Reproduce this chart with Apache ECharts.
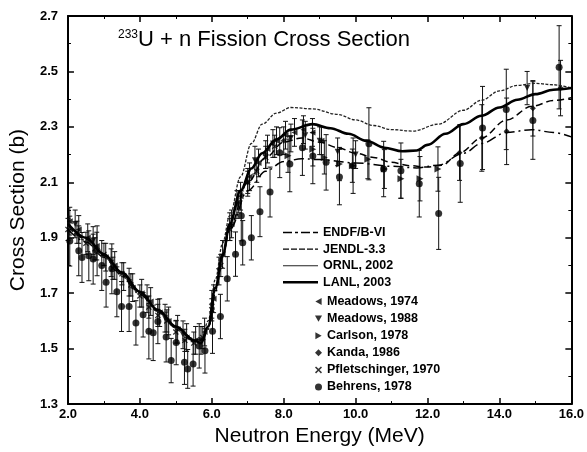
<!DOCTYPE html>
<html><head><meta charset="utf-8">
<script src="https://cdn.jsdelivr.net/npm/echarts@6/dist/echarts.min.js"></script>
<style>html,body{margin:0;padding:0;background:#fff}#c{width:587px;height:452px}</style>
</head><body><div id="c"></div>
<script>
// ---- evaluated curves: energy (MeV) / cross section (b)
const endfE  = [2.0,2.5,3.0,3.5,4.0,4.5,5.0,5.5,5.7,5.9,6.1,6.3,6.5,7.0,7.5,8.0,8.5,9.0,10.0,11.0,11.7,12.3,13.0,13.5,14.2,14.9,15.5,16.0];
const endfV  = [1.93,1.885,1.83,1.765,1.695,1.635,1.575,1.53,1.525,1.57,1.70,1.83,1.93,2.07,2.14,2.175,2.185,2.182,2.17,2.158,2.152,2.162,2.205,2.24,2.28,2.29,2.28,2.264];
const jendlE = [2.0,2.5,3.0,3.5,4.0,4.5,5.0,5.5,5.7,5.9,6.1,6.3,6.5,7.0,7.5,8.0,8.5,9.0,9.5,10.0,10.5,11.0,11.5,12.0,12.4,12.9,13.5,14.2,14.9,15.5,16.0];
const jendlV = [1.94,1.895,1.835,1.77,1.70,1.64,1.58,1.535,1.53,1.58,1.71,1.84,1.94,2.10,2.19,2.245,2.26,2.245,2.225,2.205,2.19,2.172,2.16,2.155,2.162,2.207,2.26,2.325,2.374,2.395,2.405];
const ornlE  = [2.0,2.5,3.0,3.5,4.0,4.5,5.0,5.5,5.7,5.9,6.1,6.3,6.5,6.8,7.1,7.4,7.8,8.2,8.8,9.5,10.0,10.5,11.0,11.6,12.3,13.0,13.5,14.0,14.5,15.0,15.5,16.0];
const ornlV  = [1.94,1.89,1.83,1.77,1.70,1.635,1.575,1.53,1.525,1.60,1.75,1.88,1.98,2.12,2.24,2.31,2.35,2.37,2.365,2.345,2.325,2.305,2.29,2.285,2.31,2.36,2.396,2.43,2.45,2.457,2.452,2.44];
const lanlE  = [2.0,2.5,3.0,3.5,4.0,4.5,5.0,5.5,5.7,5.9,6.1,6.3,6.5,6.8,7.1,7.4,7.8,8.2,8.8,9.3,9.8,10.3,10.8,11.3,11.7,12.0,12.5,13.0,13.5,14.0,14.5,15.0,15.5,16.0];
const lanlV  = [1.95,1.90,1.84,1.775,1.705,1.64,1.58,1.53,1.52,1.58,1.72,1.835,1.95,2.07,2.15,2.205,2.255,2.29,2.31,2.295,2.275,2.25,2.225,2.212,2.215,2.235,2.275,2.31,2.34,2.37,2.398,2.418,2.434,2.44];

// ---- measurements: [energy, cross section, uncertainty]
const meadows1974 = [[2.05,1.96,0.05],[2.3,1.93,0.05],[2.55,1.90,0.05],[2.8,1.87,0.05],[3.05,1.83,0.05],[3.3,1.80,0.05],[3.55,1.76,0.05],[3.8,1.72,0.05],[4.05,1.70,0.05],[4.3,1.67,0.05],[4.55,1.63,0.05],[4.8,1.60,0.05],[5.05,1.57,0.05],[5.3,1.54,0.05],[5.55,1.53,0.05],[5.8,1.56,0.05],[6.05,1.68,0.05],[6.3,1.84,0.05],[6.55,1.95,0.05],[6.8,2.05,0.05],[7.05,2.12,0.05],[7.3,2.17,0.05],[7.55,2.22,0.05],[7.8,2.25,0.05],[8.05,2.27,0.05],[8.3,2.28,0.05],[8.55,2.29,0.05],[8.8,2.28,0.05],[9.05,2.25,0.05]];
const meadows1988 = [[2.2,1.95,0.05],[2.7,1.89,0.05],[3.2,1.81,0.05],[3.7,1.74,0.05],[4.2,1.68,0.05],[4.7,1.61,0.05],[5.2,1.55,0.05],[5.7,1.53,0.05],[6.2,1.78,0.05],[6.7,2.02,0.05],[7.2,2.18,0.05],[7.7,2.24,0.05],[8.2,2.26,0.05],[8.6,2.27,0.05],[9.0,2.25,0.05],[9.5,2.21,0.05],[10.0,2.20,0.05],[14.77,2.44,0.06]];
const carlson1978 = [[8.12,2.196,0.06],[8.81,2.219,0.06],[9.13,2.19,0.06],[9.55,2.166,0.06],[9.91,2.16,0.06],[10.34,2.183,0.07],[10.80,2.148,0.07],[11.26,2.113,0.07],[11.79,2.113,0.08],[12.29,2.148,0.08]];
const kanda1986 = [[6.0,1.66,0.05],[6.5,1.94,0.05],[7.0,2.10,0.05],[7.5,2.20,0.05],[8.0,2.25,0.05],[12.89,2.207,0.1],[13.51,2.26,0.12],[14.2,2.284,0.12],[14.93,2.367,0.1],[15.7,2.44,0.1]];
const pfletschinger1970 = [[2.0,1.93,0.04],[2.25,1.92,0.04],[2.5,1.88,0.04],[2.75,1.86,0.04],[3.0,1.84,0.04],[3.25,1.79,0.04],[3.5,1.77,0.04],[3.75,1.73,0.04],[4.0,1.69,0.04],[4.25,1.65,0.04],[4.5,1.62,0.04],[4.75,1.60,0.04],[5.0,1.56,0.04],[5.25,1.53,0.04],[5.5,1.52,0.04],[5.75,1.54,0.04],[6.0,1.64,0.04],[6.25,1.80,0.04],[6.5,1.93,0.04],[6.75,2.03,0.04],[7.0,2.10,0.04],[7.25,2.14,0.04],[7.5,2.19,0.04],[7.75,2.23,0.04]];
const behrens1978 = [[2.05,1.888,0.09],[2.30,1.853,0.09],[2.39,1.829,0.09],[2.58,1.835,0.09],[2.70,1.823,0.09],[2.81,1.853,0.09],[2.94,1.80,0.09],[3.06,1.74,0.09],[3.22,1.788,0.09],[3.36,1.705,0.09],[3.49,1.652,0.09],[3.70,1.652,0.09],[3.89,1.593,0.08],[4.09,1.622,0.08],[4.25,1.563,0.1],[4.37,1.557,0.1],[4.50,1.598,0.08],[4.73,1.542,0.09],[4.87,1.457,0.08],[5.01,1.522,0.08],[5.24,1.451,0.08],[5.33,1.427,0.07],[5.48,1.445,0.08],[5.65,1.51,0.08],[5.81,1.492,0.08],[6.02,1.563,0.08],[6.24,1.616,0.08],[6.43,1.752,0.08],[6.66,1.841,0.08],[6.82,1.979,0.09],[6.86,1.882,0.08],[7.10,1.90,0.08],[7.34,1.994,0.09],[7.62,2.065,0.09],[7.89,2.207,0.09],[8.17,2.166,0.1],[8.52,2.225,0.1],[8.81,2.195,0.1],[9.18,2.172,0.1],[9.55,2.119,0.1],[9.93,2.16,0.1],[10.37,2.239,0.13],[10.78,2.148,0.1],[11.26,2.142,0.1],[11.77,2.095,0.12],[12.31,1.988,0.13],[12.91,2.168,0.14],[13.53,2.296,0.15],[14.19,2.363,0.145],[14.93,2.323,0.14],[15.66,2.515,0.15]];

// ---- axis ticks
const xMin = 2, xMax = 16, xStep = 2;
const yMin = 1.3, yMax = 2.7, yStep = 0.2;

const FONT = '"Liberation Sans", Arial, Helvetica, sans-serif';
const pair = (e, v) => e.map((x, i) => [x, v[i]]);

function errRender(params, api) {
  const x = api.value(0), y = api.value(1), e = api.value(2);
  const t = api.coord([x, y + e]), b = api.coord([x, y - e]);
  const w = 2.5, st = { stroke: '#111', lineWidth: 1 };
  return { type: 'group', children: [
    { type: 'line', shape: { x1: t[0], y1: t[1], x2: b[0], y2: b[1] }, style: st },
    { type: 'line', shape: { x1: t[0] - w, y1: t[1], x2: t[0] + w, y2: t[1] }, style: st },
    { type: 'line', shape: { x1: b[0] - w, y1: b[1], x2: b[0] + w, y2: b[1] }, style: st }
  ]};
}

function lineSeries(name, data, width, type, color) {
  return { name, type: 'line', data, symbol: 'none', showSymbol: false, smooth: 0.35, smoothMonotone: 'x',
    lineStyle: { color: color || '#000', width, type }, itemStyle: { color: color || '#000' }, z: 5, silent: true };
}
function errSeries(data) {
  return { type: 'custom', data, renderItem: errRender, encode: { x: 0, y: 1 }, z: 3, silent: true };
}
function markSeries(name, data, symbol, size) {
  return { name, type: 'scatter', data: data.map(d => [d[0], d[1]]), symbol, symbolSize: size,
    itemStyle: { color: '#000' }, z: 4, silent: true };
}

// marker glyphs
const triLeft  = 'path://M0,5 L9,0 L9,10 Z';
const triDown  = 'path://M0,0 L10,0 L5,9 Z';
const triRight = 'path://M0,0 L9,5 L0,10 Z';
const cross = 'path://M0,1.5 L1.5,0 L5,3.5 L8.5,0 L10,1.5 L6.5,5 L10,8.5 L8.5,10 L5,6.5 L1.5,10 L0,8.5 L3.5,5 Z';
// legend line glyphs (35 px wide, drawn as filled strips)
function strips(segs, h) {
  return 'path://' + segs.map(s => `M${s[0]},0 L${s[1]},0 L${s[1]},${h} L${s[0]},${h} Z`).join(' ');
}
const iconEndf  = strips([[0, 9], [12, 15], [18, 27], [30, 35]], 1.4);
const iconJendl = strips([[0, 6], [8, 14], [16, 22], [24, 30], [32, 35]], 1.2);
const iconOrnl  = strips([[0, 35]], 1.1);
const iconLanl  = strips([[0, 35]], 2.4);

const axisCommon = {
  axisLine: { show: true, onZero: false, lineStyle: { color: '#000', width: 2 } },
  axisTick: { show: true, inside: true, length: 6, lineStyle: { color: '#000', width: 1.5 } },
  minorTick: { show: true, splitNumber: 2, length: 3, lineStyle: { color: '#000', width: 1 } },
  splitLine: { show: false }
};
const legText = { fontFamily: FONT, fontSize: 12.5, fontWeight: 'bold', color: '#000' };

const chart = echarts.init(document.getElementById('c'), null, { renderer: 'canvas' });
chart.setOption({
  animation: false,
  backgroundColor: '#fff',
  grid: { left: 64, right: 14, top: 16, bottom: 41 },
  title: {
    text: '{sup|233}{main|U + n Fission Cross Section}',
    left: 113, top: 24,
    textStyle: { rich: {
      sup: { fontFamily: FONT, fontSize: 12, fontWeight: 'normal', color: '#000', verticalAlign: 'top', padding: [0, 0, 10, 0] },
      main: { fontFamily: FONT, fontSize: 22, fontWeight: 'normal', color: '#000' }
    } }
  },
  legend: [
    { data: [
        { name: 'ENDF/B-VI', icon: iconEndf }, { name: 'JENDL-3.3', icon: iconJendl },
        { name: 'ORNL, 2002', icon: iconOrnl }, { name: 'LANL, 2003', icon: iconLanl }],
      orient: 'vertical', left: 278, top: 221,
      itemWidth: 35, itemHeight: 3, itemGap: 3.6, itemTextGap: 7, selectedMode: false, textStyle: legText },
    { data: ['Meadows, 1974', 'Meadows, 1988', 'Carlson, 1978', 'Kanda, 1986', 'Pfletschinger, 1970', 'Behrens, 1978'],
      orient: 'vertical', left: 310, top: 290, itemWidth: 7, itemHeight: 7, itemGap: 4.1, itemTextGap: 4,
      selectedMode: false, textStyle: legText }
  ],
  xAxis: [
    Object.assign({ type: 'value', min: xMin, max: xMax, interval: xStep, name: 'Neutron Energy (MeV)',
      nameLocation: 'middle', nameGap: 11,
      nameTextStyle: { fontFamily: FONT, fontSize: 21, color: '#000', verticalAlign: 'top' },
      axisLabel: { fontFamily: FONT, fontSize: 13, fontWeight: 'bold', color: '#000', margin: 4,
        formatter: v => v.toFixed(1) } }, axisCommon),
    Object.assign({ type: 'value', min: xMin, max: xMax, interval: xStep, position: 'top',
      axisLabel: { show: false } }, axisCommon)
  ],
  yAxis: [
    Object.assign({ type: 'value', min: yMin, max: yMax, interval: yStep, name: 'Cross Section (b)',
      nameLocation: 'middle', nameGap: 33, nameRotate: 90,
      nameTextStyle: { fontFamily: FONT, fontSize: 21, color: '#000' },
      axisLabel: { fontFamily: FONT, fontSize: 13, fontWeight: 'bold', color: '#000', margin: 10,
        formatter: v => v.toFixed(1) } }, axisCommon),
    Object.assign({ type: 'value', min: yMin, max: yMax, interval: yStep, position: 'right',
      axisLabel: { show: false } }, axisCommon)
  ],
  series: [
    errSeries(meadows1974), errSeries(meadows1988), errSeries(carlson1978),
    errSeries(kanda1986), errSeries(pfletschinger1970), errSeries(behrens1978),
    lineSeries('ENDF/B-VI', pair(endfE, endfV), 1.5, [10, 4, 2, 4]),
    lineSeries('JENDL-3.3', pair(jendlE, jendlV), 1.5, [7, 4]),
    lineSeries('ORNL, 2002', pair(ornlE, ornlV), 1.3, [3, 1.5], '#222'),
    lineSeries('LANL, 2003', pair(lanlE, lanlV), 2.6, 'solid'),
    markSeries('Meadows, 1974', meadows1974, triLeft, 6),
    markSeries('Meadows, 1988', meadows1988, triDown, 6),
    markSeries('Carlson, 1978', carlson1978, triRight, 7),
    markSeries('Kanda, 1986', kanda1986, 'diamond', 6),
    markSeries('Pfletschinger, 1970', pfletschinger1970, cross, 6),
    markSeries('Behrens, 1978', behrens1978, 'circle', 7)
  ]
});
</script></body></html>
